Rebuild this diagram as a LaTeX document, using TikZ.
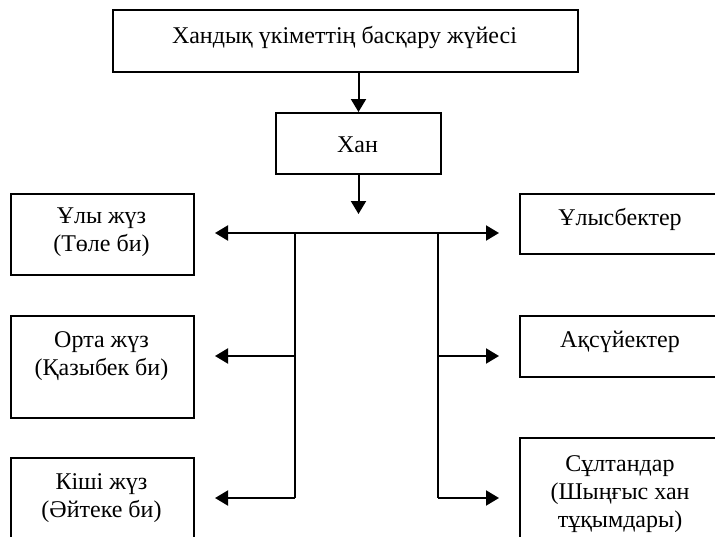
\documentclass[tikz,border=0pt]{standalone}
\usepackage{fontspec}
\setmainfont{Liberation Serif}
\usetikzlibrary{arrows.meta}
\begin{document}
\begin{tikzpicture}[x=0.5pt,y=-0.5pt,
  font=\fontsize{12pt}{14pt}\selectfont,
  box/.style={draw,line width=1pt,anchor=north west,inner sep=0pt},
  txt/.style={anchor=base,inner sep=0pt,align=center},
  arr/.style={line width=1pt,-{Triangle[length=6.5pt,width=7.5pt]}}]
\useasboundingbox (0,0) rectangle (715,536);
\clip (0,0) rectangle (715,536);
\node[box,minimum width=232.5pt,minimum height=31pt] (system) at (112,9) {};
\node[txt] (system-t) at (344.5,43) {Хандық үкіметтің басқару жүйесі};
\node[box,minimum width=82.5pt,minimum height=30.5pt] (khan) at (275,112) {};
\node[txt] (khan-t) at (357.5,152) {Хан};
\node[box,minimum width=91.5pt,minimum height=40.5pt] (uly) at (10,193) {};
\node[txt] (uly-t) at (101.5,251) {Ұлы жүз\\(Төле би)};
\node[box,minimum width=91.5pt,minimum height=51pt] (orta) at (10,315) {};
\node[txt] (orta-t) at (101.5,375) {Орта жүз\\(Қазыбек би)};
\node[box,minimum width=91.5pt,minimum height=51pt] (kishi) at (10,457) {};
\node[txt] (kishi-t) at (101.5,517) {Кіші жүз\\(Әйтеке би)};
\node[box,minimum width=101pt,minimum height=30pt] (ulys) at (519,193) {};
\node[txt] (ulys-t) at (620,225) {Ұлысбектер};
\node[box,minimum width=101pt,minimum height=30.5pt] (aksuy) at (519,315) {};
\node[txt] (aksuy-t) at (620,347) {Ақсүйектер};
\node[box,minimum width=101pt,minimum height=52pt] (sultan) at (519,437) {};
\node[txt] (sultan-t) at (620,527) {Сұлтандар\\(Шыңғыс хан\\тұқымдары)};
\coordinate (lb1) at (295,233);
\coordinate (lb2) at (295,356);
\coordinate (lb3) at (295,498);
\coordinate (rb1) at (438,233);
\coordinate (rb2) at (438,356);
\coordinate (rb3) at (438,498);
\draw[arr] (khan.north |- system.south) -- (khan.north);
\draw[arr] (khan.south) -- ++(0,39);
\draw[line width=1pt] (lb3) -- (lb1) -- (rb1) -- (rb3);
\draw[arr,shorten >=10pt] (lb1) -- (uly.east |- lb1);
\draw[arr,shorten >=10pt] (lb2) -- (orta.east |- lb2);
\draw[arr,shorten >=10pt] (lb3) -- (kishi.east |- lb3);
\draw[arr,shorten >=10pt] (rb1) -- (ulys.west |- rb1);
\draw[arr,shorten >=10pt] (rb2) -- (aksuy.west |- rb2);
\draw[arr,shorten >=10pt] (rb3) -- (sultan.west |- rb3);
\end{tikzpicture}
\end{document}
